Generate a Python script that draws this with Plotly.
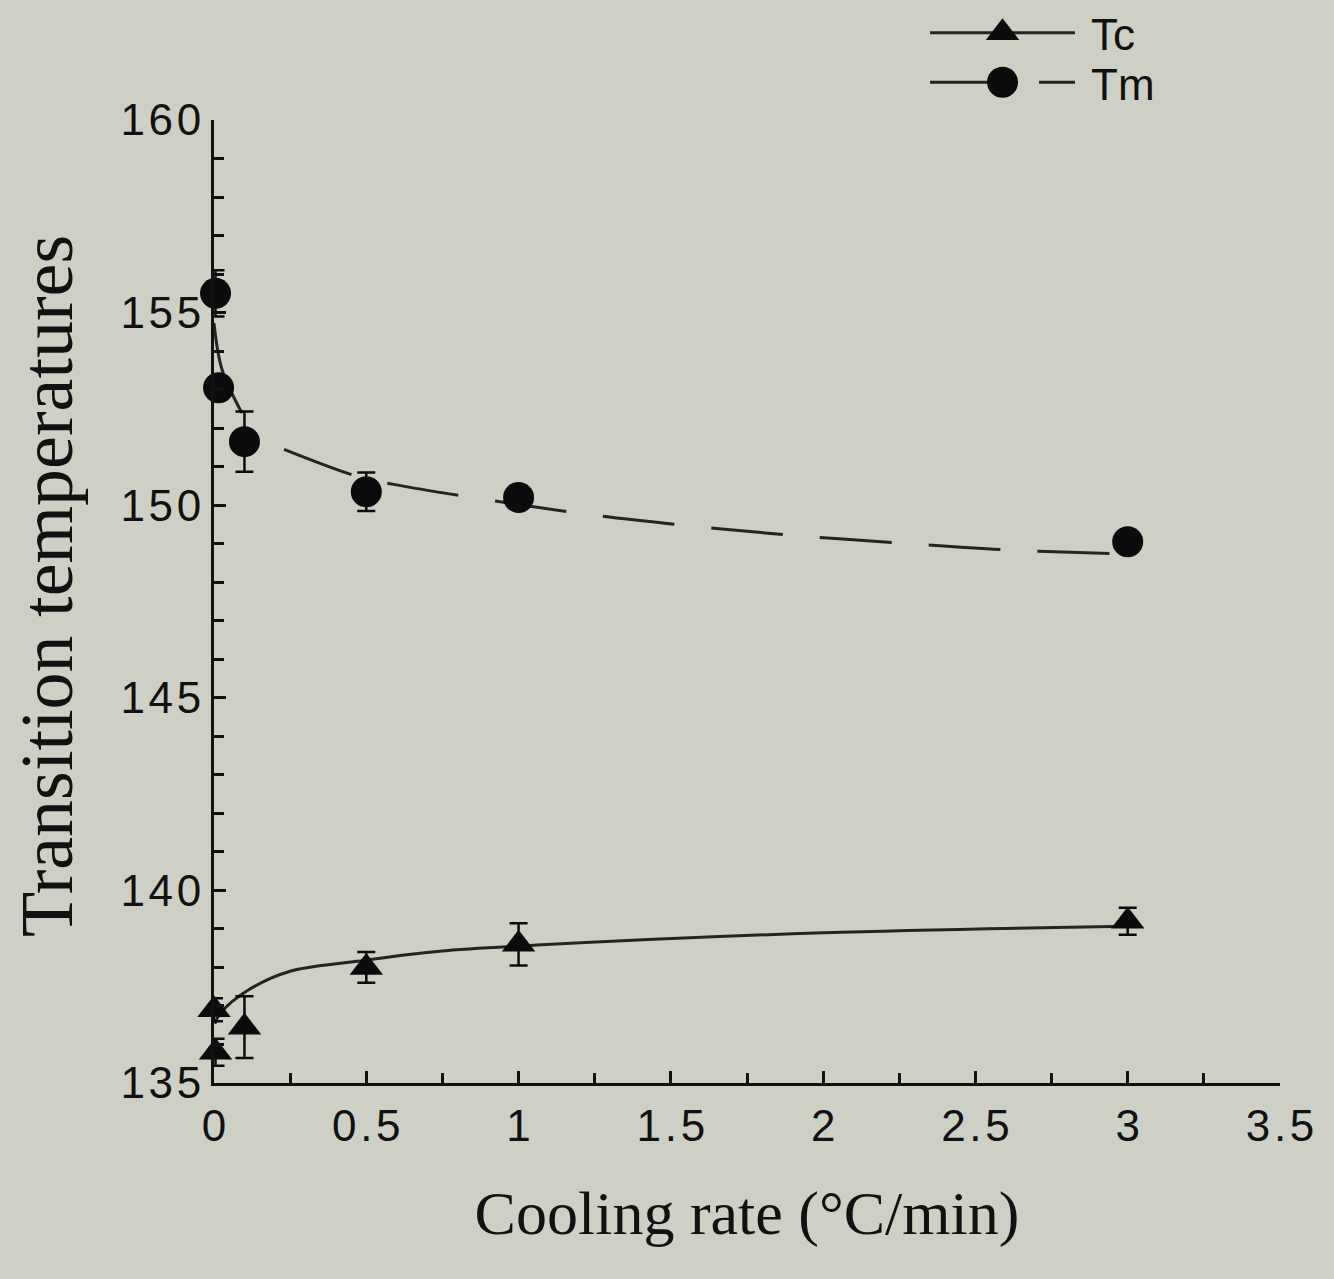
import plotly.graph_objects as go

# ---- data ----
rate_tm = [0.005, 0.015, 0.1, 0.5, 1.0, 3.0]
tm = [155.5, 153.05, 151.65, 150.35, 150.2, 149.05]
tm_err = [0.6, 0.3, 0.78, 0.5, 0.15, 0.1]

rate_tc = [0.0, 0.005, 0.1, 0.5, 1.0, 3.0]
tc = [136.9, 135.8, 136.45, 138.0, 138.6, 139.2]
tc_err = [0.3, 0.35, 0.8, 0.4, 0.55, 0.35]

# fitted guide curves
tm_fit_x = [0.0, 0.026, 0.092, 0.23, 0.47, 0.59, 1.18, 1.53, 1.88, 2.25, 2.6, 2.96, 3.0]
tm_fit_y = [154.73, 153.53, 152.39, 151.45, 150.75, 150.54, 149.81, 149.49, 149.23, 149.02, 148.84, 148.74, 148.73]
tm_solid_n = 3

tc_fit_x = [0.003, 0.02, 0.11, 0.25, 0.47, 0.74, 1.06, 2.0, 3.0]
tc_fit_y = [136.54, 136.8, 137.4, 137.9, 138.16, 138.42, 138.58, 138.9, 139.07]

HS = "\u200a"  # hair space, mimics the spaced-out digits of the original
x_tickvals = [0, 0.5, 1, 1.5, 2, 2.5, 3, 3.5]
x_ticktext = [HS.join(t) for t in ["0", "0.5", "1", "1.5", "2", "2.5", "3", "3.5"]]
y_tickvals = [135, 140, 145, 150, 155, 160]
y_ticktext = [HS.join(str(v)) for v in y_tickvals]

# legend (drawn on its own small hidden axes so the symbols can be full size)
legend_names = ["Tc", "Tm"]
legend_rows = [2, 1]
legend_sample_x = [0.0, 0.5, 1.0]

BG = "rgb(206,208,197)"
LINE = "#2a2222"
MARK = "#0b0b0b"
DASH = "72px,37px"
TRI = 29
CIRC = 31

fig = go.Figure()

# Tm curve: solid start, then long dashes
fig.add_trace(go.Scatter(x=tm_fit_x[:tm_solid_n], y=tm_fit_y[:tm_solid_n], mode="lines",
                         line=dict(color=LINE, width=3, shape="spline"), showlegend=False,
                         hoverinfo="skip", cliponaxis=False))
fig.add_trace(go.Scatter(x=tm_fit_x[tm_solid_n:], y=tm_fit_y[tm_solid_n:], mode="lines",
                         line=dict(color=LINE, width=3, shape="spline", dash=DASH), showlegend=False,
                         hoverinfo="skip"))
# Tc curve
fig.add_trace(go.Scatter(x=tc_fit_x, y=tc_fit_y, mode="lines",
                         line=dict(color=LINE, width=3, shape="spline"), showlegend=False,
                         hoverinfo="skip", cliponaxis=False))

# data markers with error bars
fig.add_trace(go.Scatter(x=rate_tm, y=tm, mode="markers", showlegend=False, cliponaxis=False,
                         marker=dict(symbol="circle", size=CIRC, color=MARK),
                         error_y=dict(type="data", array=tm_err, color=MARK, thickness=2.5, width=9)))
fig.add_trace(go.Scatter(x=rate_tc, y=tc, mode="markers", showlegend=False, cliponaxis=False,
                         marker=dict(symbol="triangle-up", size=TRI, color=MARK),
                         error_y=dict(type="data", array=tc_err, color=MARK, thickness=2.5, width=9)))

# legend samples
leg_styles = [dict(dash="solid", symbol="triangle-up", size=TRI),
              dict(dash=DASH, symbol="circle", size=CIRC)]
for name, row, st in zip(legend_names, legend_rows, leg_styles):
    fig.add_trace(go.Scatter(x=legend_sample_x, y=[row] * len(legend_sample_x), mode="lines",
                             xaxis="x2", yaxis="y2", showlegend=False, hoverinfo="skip",
                             line=dict(color=LINE, width=3, dash=st["dash"])))
    fig.add_trace(go.Scatter(x=[legend_sample_x[1]], y=[row], mode="markers",
                             xaxis="x2", yaxis="y2", showlegend=False, hoverinfo="skip",
                             marker=dict(symbol=st["symbol"], size=st["size"], color=MARK)))
    fig.add_annotation(x=legend_sample_x[-1], y=row, xref="x2", yref="y2", text=name,
                       showarrow=False, xanchor="left", yanchor="middle", xshift=14, yshift=-2,
                       font=dict(family="Liberation Sans, Arial", size=44, color="#111"))

tickfont = dict(family="Liberation Sans, Arial", size=44, color="#111")

fig.add_annotation(text="Transition temperatures", textangle=-90, xref="paper", yref="paper",
                   x=-0.1567, y=0.4589, xanchor="center", yanchor="middle", showarrow=False,
                   font=dict(family="Liberation Serif, Times New Roman, serif", size=74, color="#111"))

fig.update_layout(
    width=1334, height=1279,
    paper_bgcolor=BG, plot_bgcolor=BG,
    margin=dict(l=214, r=54, t=0, b=196, autoexpand=False),
    showlegend=False,
    xaxis=dict(range=[0, 3.5], tickvals=x_tickvals, ticktext=x_ticktext,
               showgrid=False, zeroline=False, showline=True, linecolor="#111", linewidth=3,
               ticks="inside", ticklen=12, tickwidth=2.5, tickcolor="#111",
               minor=dict(dtick=0.25, tick0=0, ticks="inside", ticklen=10, tickwidth=2.5, tickcolor="#111", showgrid=False),
               tickfont=tickfont, ticklabelstandoff=2,
               title=dict(text="Cooling rate (°C/min)", standoff=42,
                          font=dict(family="Liberation Serif, Times New Roman, serif", size=62, color="#111"))),
    yaxis=dict(range=[135, 160], domain=[0, 0.8892], tickvals=y_tickvals, ticktext=y_ticktext,
               showgrid=False, zeroline=False, showline=True, linecolor="#111", linewidth=3,
               ticks="inside", ticklen=12, tickwidth=2.5, tickcolor="#111",
               minor=dict(dtick=1, tick0=135, ticks="inside", ticklen=10, tickwidth=2.5, tickcolor="#111", showgrid=False),
               tickfont=tickfont, ticklabelstandoff=1),
    xaxis2=dict(domain=[0.6717, 0.8077], range=[0, 1], visible=False, anchor="y2", fixedrange=True),
    yaxis2=dict(domain=[0.9012, 0.9926], range=[0.5, 2.5], visible=False, anchor="x2", fixedrange=True),
)

fig.write_html("out.html")
